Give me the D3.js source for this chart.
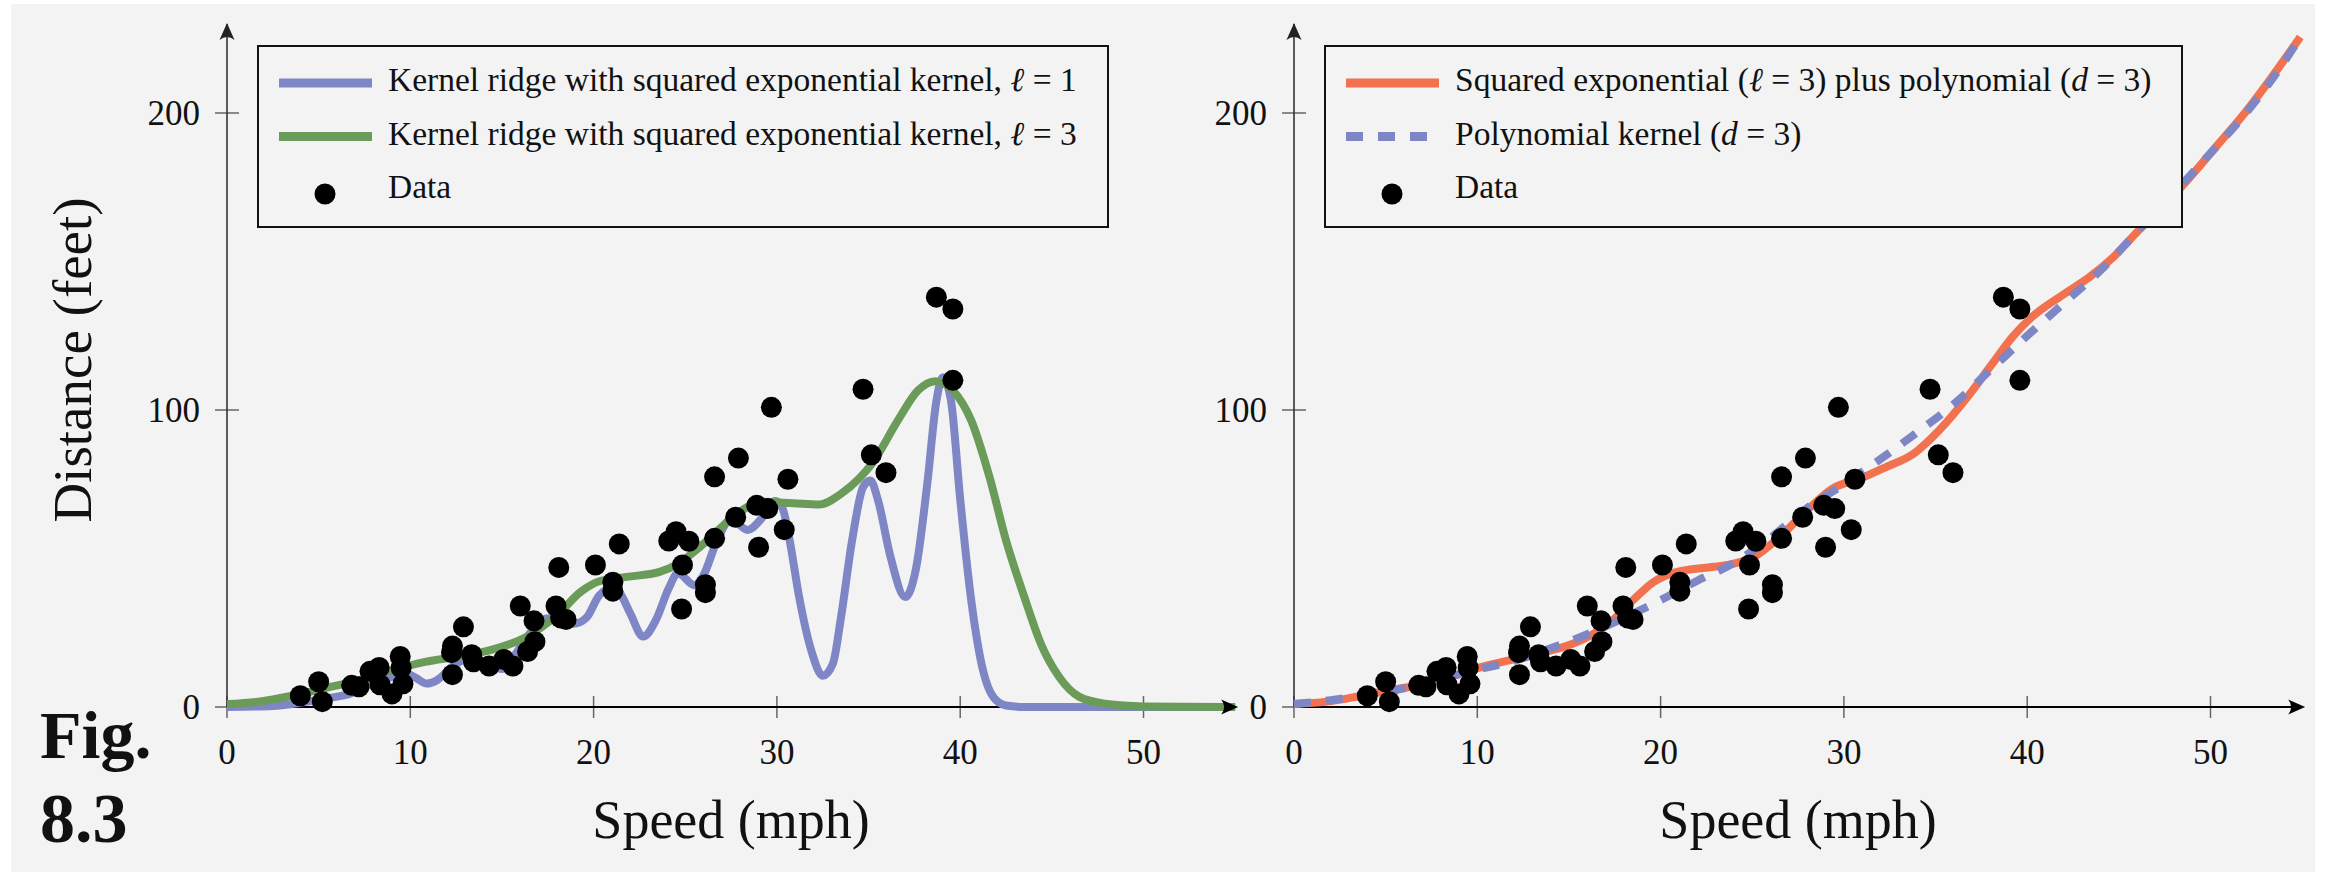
<!DOCTYPE html>
<html>
<head>
<meta charset="utf-8">
<script src="https://cdn.jsdelivr.net/npm/d3@7"></script>
<style>
  html, body { margin: 0; background: #fff; }
  svg { display: block; }
  text { font-family: "Liberation Serif", "DejaVu Serif", serif; fill: #111; }
</style>
</head>
<body>
<svg id="fig" width="2325" height="872"></svg>
<script>
// ---- data ----
const speed = [4.0, 5.0, 5.2, 6.8, 7.2, 7.8, 8.3, 8.35, 9.0, 9.45, 9.5, 9.6,
  12.3, 12.3, 12.25, 12.9, 13.35, 13.45, 14.3, 15.1, 15.6, 16.0, 16.4, 16.8, 16.75,
  17.95, 18.1, 18.2, 18.5, 20.1, 21.05, 21.05, 21.4, 24.1, 24.5, 25.2, 24.85, 24.8,
  26.1, 26.1, 26.6, 26.6, 27.75, 27.9, 28.9, 29.5, 29.0, 30.4, 30.6, 29.7,
  34.7, 35.15, 35.95, 38.7, 39.6, 39.6];
const dist = [3.8, 8.5, 1.8, 7.3, 6.8, 12, 13.3, 7.5, 4.4, 17, 13.2, 7.8,
  10.9, 20.5, 18.3, 27, 17.6, 15.2, 13.8, 16, 13.8, 34, 18.7, 22, 29,
  34, 47, 30, 29.5, 47.8, 42, 39, 54.9, 55.9, 59, 55.8, 47.8, 33,
  41.2, 38.5, 56.8, 77.5, 63.9, 83.8, 67.9, 66.8, 53.8, 59.7, 76.7, 100.9,
  107, 84.9, 78.9, 138, 134, 110];

const xTicks = [0, 10, 20, 30, 40, 50];
const yTicks = [0, 100, 200];

// kernel ridge, squared exponential, l = 1  [speed, fit]
const fitSE1 = [[0,0],[2.5,0.3],[3.9,1.3],[5.3,2.8],[6.8,4.6],[7.9,7.8],[9.0,10.2],[9.6,11.8],
  [10.3,9.8],[10.9,7.9],[11.5,9.2],[12.3,13.6],[13.0,15.8],[14.1,14.6],[15.0,12.8],[15.7,17.5],
  [16.6,25.4],[17.4,29.8],[18.1,30],[18.9,28],[19.6,30],[20.3,37.5],[20.9,39.8],[21.4,38.5],
  [22.0,31.5],[22.7,23.7],[23.4,29.3],[24.1,40],[24.6,45],[25.5,41],[26.0,44.4],[26.7,55.5],
  [27.5,63.3],[28.4,59.6],[29.1,63],[29.9,69.4],[30.3,67],[30.7,56],[31.2,37.5],[31.9,18.5],
  [32.5,10.5],[33.05,14.5],[33.5,30.3],[34.1,56],[34.7,74],[35.1,76.3],[35.5,70],[36.2,50.5],
  [37.0,37],[37.6,47],[38.2,75],[38.7,103],[39.05,111],[39.5,103],[40.0,70],[40.6,36],
  [41.2,13.5],[41.8,3.4],[42.5,0.5],[43.5,0],[55,0]];

// kernel ridge, squared exponential, l = 3
const fitSE3 = [[0,1],[1.7,1.8],[3.5,3.7],[5.3,6.3],[7.2,9],[9,12.4],[10.8,15.2],[12.6,17],
  [14.4,19.2],[16.3,23.5],[18.1,31.5],[19.3,38.8],[20.4,42.5],[21.8,43.8],[23.6,45.5],[24.5,47.8],
  [25.8,53.9],[26.9,60.1],[28,65.8],[29.1,69.1],[30.9,68.6],[32.3,68.2],[33.5,71.8],[34.5,77],
  [35.2,82],[36.6,96.5],[37.7,106.6],[38.65,109.7],[39.6,106.6],[40.6,96.5],[41.6,77.4],
  [42.5,56.1],[43.5,37],[44.4,21.3],[45.4,10.1],[46.5,3.4],[47.9,1.1],[50,0.2],[55,0]];

// squared exponential (l = 3) plus polynomial (d = 3)
const fitSEPoly = [[0,1],[1.8,1.8],[3.6,3.7],[5.4,5.8],[7.2,7.8],[9,11],[10.2,13.4],[11.8,15.8],
  [13.6,18.4],[14.9,20.6],[16,23.5],[17.3,28.7],[18.5,36],[19.6,42],[20.9,45.5],[22.9,47.2],
  [23.8,48],[25.1,50.6],[26.5,57.3],[28,66.3],[29.4,73.6],[30.9,76.9],[32.3,80.8],[33.8,85.3],
  [35.2,93.2],[36.6,103.3],[38.1,115.6],[39.2,124.6],[40.2,131],[42.1,139.4],[43.4,144.8],
  [44.7,151.5],[46.1,160.6],[47.4,168.4],[48.9,178.5],[50.3,188.6],[51.7,198.7],[53.1,210],[54.9,225.6]];

// polynomial kernel (d = 3)
const fitPoly = [[0,1],[2,2.3],[4.5,4.6],[6,6.3],[8,9.5],[10,12.6],[12,15.5],[14,19.8],[16,24.5],
  [18,30],[20,36],[22,42.5],[24,48.5],[26,57],[28,67],[30,75],[32,83.5],[34,92.5],[36,102],
  [38,113.5],[40,125],[42,136],[44,147],[46,160],[48,173],[50,186.5],[52,200.5],[54,217],[54.9,225.6]];

// legend labels: segments [text, italic]
const legendLeft = [
  { type: "line", color: "#7f86c6", dash: null,
    label: [["Kernel ridge with squared exponential kernel, ", false], ["ℓ", true], [" = 1", false]] },
  { type: "line", color: "#6b9b59", dash: null,
    label: [["Kernel ridge with squared exponential kernel, ", false], ["ℓ", true], [" = 3", false]] },
  { type: "dot", label: [["Data", false]] }
];
const legendRight = [
  { type: "line", color: "#f2714f", dash: null,
    label: [["Squared exponential (", false], ["ℓ", true], [" = 3) plus polynomial (", false], ["d", true], [" = 3)", false]] },
  { type: "line", color: "#7f86c6", dash: "17,15",
    label: [["Polynomial kernel (", false], ["d", true], [" = 3)", false]] },
  { type: "dot", label: [["Data", false]] }
];

const points = speed.map((s, i) => [s, dist[i]]);

const svg = d3.select("#fig");
svg.append("rect").attr("x", 11).attr("y", 4).attr("width", 2304).attr("height", 868).attr("fill", "#f3f3f3");

function panel(opt) {
  const x = d3.scaleLinear().domain([0, 55]).range([opt.left, opt.left + 55 * 18.33]);
  const y = d3.scaleLinear().domain([0, 230]).range([707, 707 - 230 * 2.97]);
  const g = svg.append("g");

  // ticks
  g.selectAll(".xt").data(xTicks).join("line")
    .attr("x1", d => x(d)).attr("x2", d => x(d)).attr("y1", y(0) - 11).attr("y2", y(0) + 11)
    .attr("stroke", "#666").attr("stroke-width", 1.5);
  g.selectAll(".yt").data(yTicks).join("line")
    .attr("x1", x(0) - 12).attr("x2", x(0) + 12).attr("y1", d => y(d)).attr("y2", d => y(d))
    .attr("stroke", "#666").attr("stroke-width", 1.5);
  g.selectAll(".xl").data(xTicks).join("text")
    .attr("x", d => x(d)).attr("y", 764).attr("text-anchor", "middle")
    .attr("font-size", 35).text(d => d);
  g.selectAll(".yl").data(yTicks).join("text")
    .attr("x", x(0) - 27).attr("y", d => y(d) + 12).attr("text-anchor", "end")
    .attr("font-size", 35).text(d => d);

  // axis lines
  g.append("line").attr("x1", x(0)).attr("x2", x(55)).attr("y1", y(0)).attr("y2", y(0))
    .attr("stroke", "#000").attr("stroke-width", 2);
  g.append("line").attr("x1", x(0)).attr("x2", x(0)).attr("y1", y(0)).attr("y2", y(230))
    .attr("stroke", "#333").attr("stroke-width", 1.6);

  // curves
  const line = d3.line().x(d => x(d[0])).y(d => y(d[1])).curve(d3.curveMonotoneX);
  opt.curves.forEach(c => {
    g.append("path").attr("d", line(c.data)).attr("fill", "none")
      .attr("stroke", c.color).attr("stroke-width", 8)
      .attr("stroke-dasharray", c.dash).attr("stroke-linejoin", "round");
  });

  // arrow heads
  const head = "M0,0 L-17,-7.5 Q-11,0 -17,7.5 Z";
  g.append("path").attr("d", head).attr("fill", "#000")
    .attr("transform", `translate(${x(55) + 3},${y(0)})`);
  g.append("path").attr("d", head).attr("fill", "#222")
    .attr("transform", `translate(${x(0)},${y(230) - 1}) rotate(-90)`);

  // data
  g.selectAll("circle").data(points).join("circle")
    .attr("cx", d => x(d[0])).attr("cy", d => y(d[1])).attr("r", 10.5).attr("fill", "#000");

  // x label
  g.append("text").attr("x", (x(0) + x(55)) / 2).attr("y", 838).attr("text-anchor", "middle")
    .attr("font-size", 54).text("Speed (mph)");

  // legend
  const bx = opt.legendX, bw = opt.legendW;
  g.append("rect").attr("x", bx).attr("y", 46).attr("width", bw).attr("height", 181)
    .attr("fill", "#f3f3f3").attr("stroke", "#111").attr("stroke-width", 2);
  opt.legend.forEach((e, i) => {
    const cy = 83 + i * 53.5;
    if (e.type === "line") {
      g.append("line").attr("x1", bx + 21).attr("x2", bx + 114).attr("y1", cy).attr("y2", cy)
        .attr("stroke", e.color).attr("stroke-width", 9).attr("stroke-dasharray", e.dash);
    } else {
      g.append("circle").attr("cx", bx + 67).attr("cy", cy + 4).attr("r", 10.5).attr("fill", "#000");
    }
    const t = g.append("text").attr("x", bx + 130).attr("y", cy + 8).attr("font-size", 33.5);
    e.label.forEach(s => t.append("tspan").attr("font-style", s[1] ? "italic" : null).text(s[0]));
  });
}

panel({
  left: 227, legendX: 258, legendW: 850, legend: legendLeft,
  curves: [
    { data: fitSE1, color: "#7f86c6", dash: null },
    { data: fitSE3, color: "#6b9b59", dash: null }
  ]
});
panel({
  left: 1294, legendX: 1325, legendW: 857, legend: legendRight,
  curves: [
    { data: fitSEPoly, color: "#f2714f", dash: null },
    { data: fitPoly, color: "#7f86c6", dash: "17,15" }
  ]
});

// y label
svg.append("text").attr("transform", "translate(91,360) rotate(-90)").attr("text-anchor", "middle")
  .attr("font-size", 55).text("Distance (feet)");

// figure number
svg.append("text").attr("x", 40).attr("y", 758).attr("font-size", 68).attr("font-weight", "bold").text("Fig.");
svg.append("text").attr("x", 40).attr("y", 842).attr("font-size", 70).attr("font-weight", "bold").text("8.3");
</script>
</body>
</html>
